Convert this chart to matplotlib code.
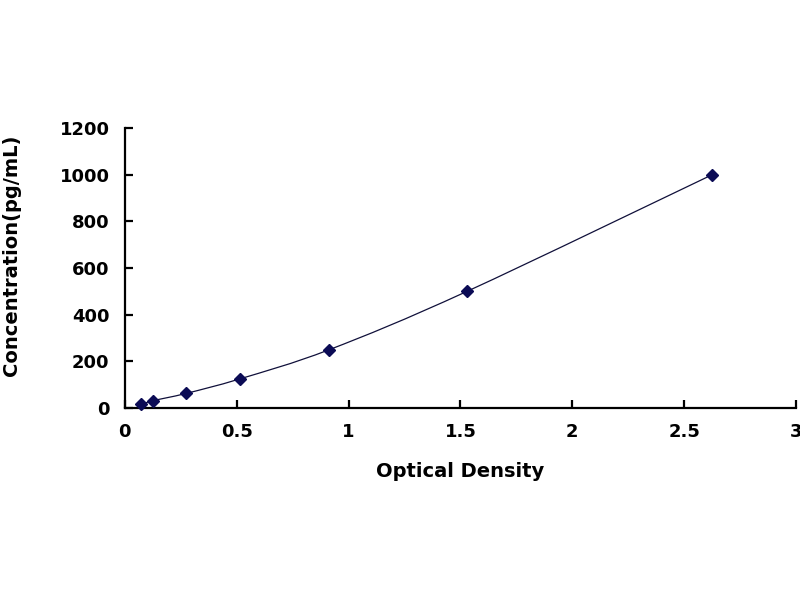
import matplotlib.pyplot as plt
from matplotlib.path import Path
from matplotlib.patches import PathPatch

# standard curve values
od = [0.074, 0.126, 0.274, 0.515, 0.914, 1.53, 2.626]
conc = [15.6, 31.2, 62.5, 125, 250, 500, 1000]

x_ticks = [0, 0.5, 1, 1.5, 2, 2.5, 3]
x_labels = ['0', '0.5', '1', '1.5', '2', '2.5', '3']
y_ticks = [0, 200, 400, 600, 800, 1000, 1200]

plt.rcParams['font.family'] = ['DejaVu Sans']
plt.rcParams['font.weight'] = 'bold'

fig = plt.figure(figsize=(8, 6), dpi=100)
ax = fig.add_axes([0.156, 0.32, 0.839, 0.4667])

# smoothed line through the points (Excel-style bezier)
verts = [(od[0], conc[0])]
codes = [Path.MOVETO]
n = len(od)
t = 1 / 6
for i in range(n - 1):
    p0 = (od[i - 1], conc[i - 1]) if i > 0 else (od[i], conc[i])
    p1 = (od[i], conc[i])
    p2 = (od[i + 1], conc[i + 1])
    p3 = (od[i + 2], conc[i + 2]) if i + 2 < n else p2
    c1 = (p1[0] + (p2[0] - p0[0]) * t, p1[1] + (p2[1] - p0[1]) * t)
    c2 = (p2[0] - (p3[0] - p1[0]) * t, p2[1] - (p3[1] - p1[1]) * t)
    verts += [c1, c2, p2]
    codes += [Path.CURVE4] * 3
ax.add_patch(PathPatch(Path(verts, codes), facecolor='none',
                       edgecolor='#10103a', linewidth=0.9))

ax.plot(od, conc, linestyle='none', marker='D', markersize=6.5,
        color='#0b0b55', clip_on=False, zorder=3)

ax.set_xlim(0, 3)
ax.set_ylim(0, 1200)
ax.set_xticks(x_ticks)
ax.set_xticklabels(x_labels)
ax.set_yticks(y_ticks)

for s in ['top', 'right']:
    ax.spines[s].set_visible(False)
for s in ['left', 'bottom']:
    ax.spines[s].set_linewidth(1.6)
    ax.spines[s].set_color('black')

ax.tick_params(axis='both', direction='in', length=6, width=1.6,
               labelsize=13, pad=11)
for lab in ax.get_xticklabels() + ax.get_yticklabels():
    lab.set_fontweight('bold')
for tk in ax.xaxis.get_major_ticks() + ax.yaxis.get_major_ticks():
    tk.tick1line.set_clip_on(False)

ax.set_xlabel('Optical Density', fontsize=14, fontweight='bold')
ax.set_ylabel('Concentration(pg/mL)', fontsize=14, fontweight='bold')
ax.xaxis.set_label_coords(0.499, -0.193)
ax.yaxis.set_label_coords(-0.155, 0.546)

fig.savefig('out.png', dpi=100)
